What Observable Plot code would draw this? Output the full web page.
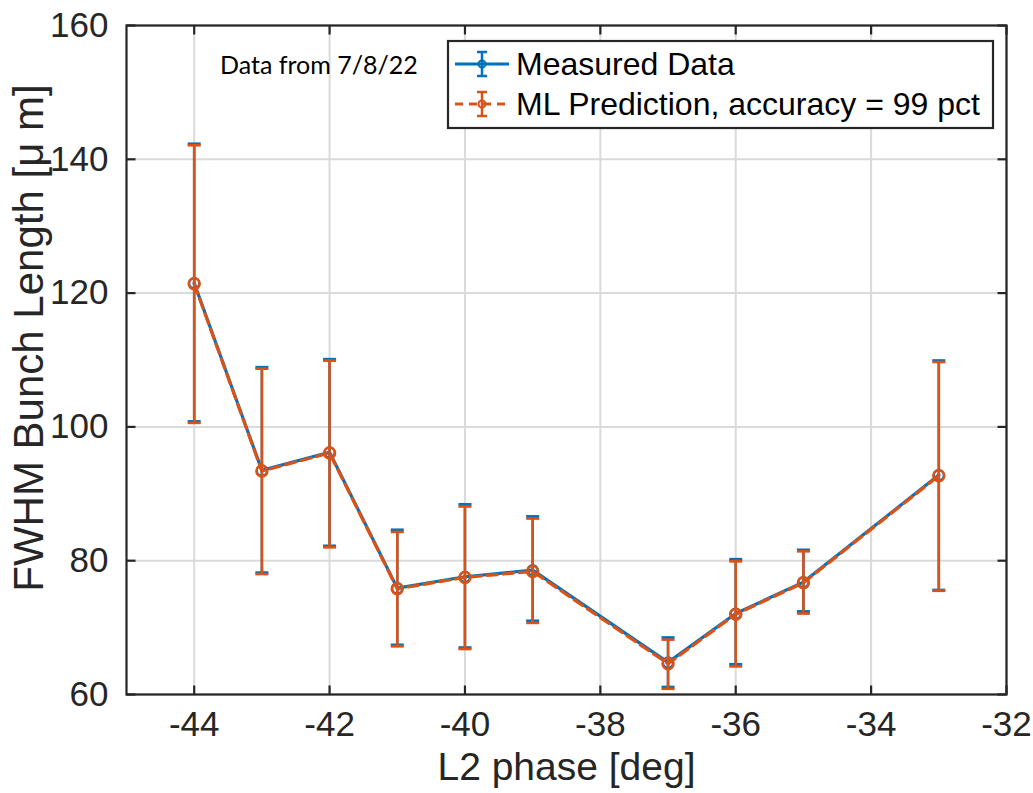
<!DOCTYPE html>
<html>
<head>
<meta charset="utf-8">
<script src="https://cdn.jsdelivr.net/npm/d3@7"></script>
<script src="https://cdn.jsdelivr.net/npm/@observablehq/plot@0.6"></script>
<style>
  html, body { margin: 0; padding: 0; background: #fff; }
  #chart svg { display: block; }
</style>
</head>
<body>
<div id="chart"></div>
<script>
// ---- data ----
const phase = [-44, -43, -42, -41, -40, -39, -37, -36, -35, -33];
const measured = [121.5, 93.5, 96.2, 75.9, 77.6, 78.6, 64.8, 72.1, 76.8, 92.8];
const measuredLow = [100.8, 78.2, 82.2, 67.4, 67.0, 71.0, 61.1, 64.5, 72.4, 75.6];
const measuredHigh = [142.3, 108.9, 110.1, 84.6, 88.4, 86.6, 68.5, 80.2, 81.6, 109.9];
const predicted = [121.4, 93.4, 96.1, 75.8, 77.5, 78.4, 64.6, 72.0, 76.7, 92.7];
const predictedLow = [100.6, 78.0, 82.0, 67.2, 66.8, 70.7, 60.85, 64.2, 72.1, 75.5];
const predictedHigh = [142.1, 108.7, 109.9, 84.3, 88.1, 86.3, 68.2, 79.9, 81.4, 109.7];
const xTicks = [-44, -42, -40, -38, -36, -34, -32];
const yTicks = [60, 80, 100, 120, 140, 160];
const seriesNames = ["Measured Data", "ML Prediction, accuracy = 99 pct"];
const xTitle = "L2 phase [deg]";
const yTitle = "FWHM Bunch Length [\u03bc m]";
const note = "Data from 7/8/22";

const blue = "#0072BD";
const orange = "#D95319";
const ink = "#262626";

const meas = phase.map((x, i) => ({x, y: measured[i], lo: measuredLow[i], hi: measuredHigh[i]}));
const pred = phase.map((x, i) => ({x, y: predicted[i], lo: predictedLow[i], hi: predictedHigh[i]}));

// custom symbols (pixel-sized)
const cap = {draw(ctx) { ctx.moveTo(-6.5, 0); ctx.lineTo(6.5, 0); }};
const tickUp = {draw(ctx) { ctx.moveTo(0, 0); ctx.lineTo(0, -9); }};
const tickDown = {draw(ctx) { ctx.moveTo(0, 0); ctx.lineTo(0, 9); }};
const tickRight = {draw(ctx) { ctx.moveTo(0, 0); ctx.lineTo(9, 0); }};
const tickLeft = {draw(ctx) { ctx.moveTo(0, 0); ctx.lineTo(-9, 0); }};

const font = "'Liberation Sans', Arial, Helvetica, sans-serif";
const dash = "10,6";

const plot = Plot.plot({
  width: 1033,
  height: 793,
  marginLeft: 126,
  marginRight: 27,
  marginTop: 25,
  marginBottom: 99,
  style: {fontFamily: font, color: ink, background: "#fff"},
  x: {domain: [-45, -32], label: null},
  y: {domain: [60, 160], label: null},
  marks: [
    Plot.gridX(xTicks, {stroke: "#dadada", strokeOpacity: 1, strokeWidth: 2}),
    Plot.gridY(yTicks, {stroke: "#dadada", strokeOpacity: 1, strokeWidth: 2}),
    Plot.axisX(xTicks, {tickSize: 0, tickPadding: 17, fontSize: 35, fill: ink, label: null, tickFormat: d => String(d)}),
    Plot.axisY(yTicks, {tickSize: 0, tickPadding: 18, fontSize: 35, fill: ink, label: null}),
    // inner ticks on all four sides
    Plot.dot(xTicks, {x: d => d, frameAnchor: "bottom", symbol: tickUp, stroke: ink, strokeWidth: 2.2}),
    Plot.dot(xTicks, {x: d => d, frameAnchor: "top", symbol: tickDown, stroke: ink, strokeWidth: 2.2}),
    Plot.dot(yTicks, {y: d => d, frameAnchor: "left", symbol: tickRight, stroke: ink, strokeWidth: 2.2}),
    Plot.dot(yTicks, {y: d => d, frameAnchor: "right", symbol: tickLeft, stroke: ink, strokeWidth: 2.2}),
    // measured data (blue)
    Plot.ruleX(meas, {x: "x", y1: "lo", y2: "hi", stroke: blue, strokeWidth: 2.5}),
    Plot.dot(meas, {x: "x", y: "lo", symbol: cap, stroke: blue, strokeWidth: 3}),
    Plot.dot(meas, {x: "x", y: "hi", symbol: cap, stroke: blue, strokeWidth: 3}),
    Plot.line(meas, {x: "x", y: "y", stroke: blue, strokeWidth: 3.2}),
    Plot.dot(meas, {x: "x", y: "y", r: 5, stroke: blue, strokeWidth: 2.2, fill: "none"}),
    // ML prediction (orange, dashed)
    Plot.ruleX(pred, {x: "x", y1: "lo", y2: "hi", stroke: orange, strokeWidth: 2.6}),
    Plot.dot(pred, {x: "x", y: "lo", symbol: cap, stroke: orange, strokeWidth: 2.6}),
    Plot.dot(pred, {x: "x", y: "hi", symbol: cap, stroke: orange, strokeWidth: 2.6}),
    Plot.line(pred, {x: "x", y: "y", stroke: orange, strokeWidth: 3.2, strokeDasharray: dash}),
    Plot.dot(pred, {x: "x", y: "y", r: 5.5, stroke: orange, strokeWidth: 2.5, fill: "none"}),
    Plot.frame({stroke: ink, strokeWidth: 2.2}),
    // axis titles
    Plot.text([xTitle], {frameAnchor: "bottom", dy: 73, fontSize: 39, fill: ink, lineAnchor: "middle", textAnchor: "middle"}),
    Plot.text([yTitle], {frameAnchor: "left", dx: -97, dy: -22, rotate: -90, fontSize: 42, fill: ink, textAnchor: "middle"})
  ]
});

document.getElementById("chart").appendChild(plot);

// legend + note drawn inside the SVG
const svg = d3.select(plot);
svg.append("text")
  .attr("x", 220).attr("y", 74)
  .attr("text-anchor", "start")
  .attr("font-family", "Lato, 'Open Sans', sans-serif")
  .attr("font-size", 25)
  .attr("fill", "#000")
  .text(note);

const lg = svg.append("g");
lg.append("rect").attr("x", 448).attr("y", 41).attr("width", 545).attr("height", 87)
  .attr("fill", "#fff").attr("stroke", ink).attr("stroke-width", 2.2);
const entries = [
  {name: seriesNames[0], color: blue, dash: null, cy: 64},
  {name: seriesNames[1], color: orange, dash: "8,6", cy: 104}
];
entries.forEach(e => {
  const g = lg.append("g").attr("stroke", e.color).attr("fill", "none");
  g.append("line").attr("x1", 455).attr("x2", 509).attr("y1", e.cy).attr("y2", e.cy)
    .attr("stroke-width", 3).attr("stroke-dasharray", e.dash);
  g.append("line").attr("x1", 482).attr("x2", 482).attr("y1", e.cy - 12).attr("y2", e.cy + 12).attr("stroke-width", 2.5);
  g.append("line").attr("x1", 477).attr("x2", 487).attr("y1", e.cy - 12).attr("y2", e.cy - 12).attr("stroke-width", 2.5);
  g.append("line").attr("x1", 477).attr("x2", 487).attr("y1", e.cy + 12).attr("y2", e.cy + 12).attr("stroke-width", 2.5);
  g.append("circle").attr("cx", 482).attr("cy", e.cy).attr("r", 3.5).attr("stroke-width", 2);
  lg.append("text").attr("x", 516).attr("y", e.cy).attr("dy", "0.35em")
    .attr("text-anchor", "start")
    .attr("font-family", font).attr("font-size", 32).attr("fill", "#000").text(e.name);
});
</script>
</body>
</html>
